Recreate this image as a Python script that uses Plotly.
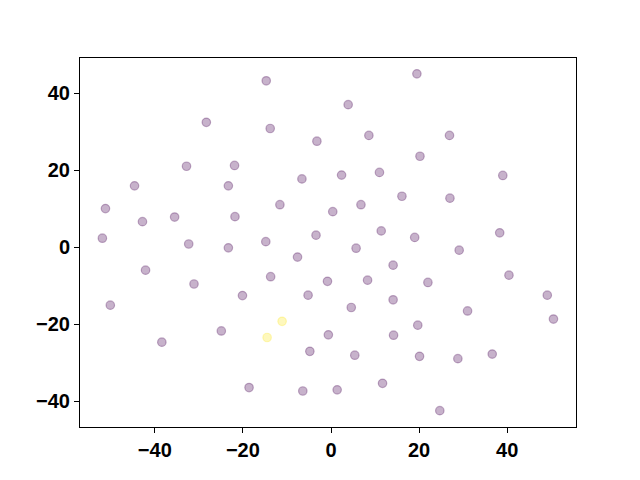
import plotly.graph_objects as go

# purple (class 0) points
x0 = [-14.7, -28.3, -13.8, -3.2, -32.8, -21.9, -44.6, -23.3, -6.6, -51.2,
      -42.8, -35.5, -21.8, -11.6, 0.4, -51.9, -32.3, -23.3, -14.8, -3.4,
      19.5, 3.9, 8.6, 26.9, 20.2, 2.4, 11.0, 39.0, 16.1, 27.0,
      6.8, 11.4, 19.0, 38.3, 5.7, 29.1, -7.6, -42.1, -31.1, -13.7,
      -20.1, -5.2, -0.8, -50.1, -24.9, -38.4, -0.6, -4.8, -18.6, -6.4,
      14.1, 40.4, 8.3, 22.0, 49.1, 4.6, 14.1, 31.0, 50.5, 14.2,
      19.7, 5.4, 20.1, 28.8, 36.6, 1.4, 11.7, 24.7]
y0 = [43.3, 32.5, 30.9, 27.6, 21.1, 21.3, 16.0, 16.0, 17.8, 10.1,
      6.7, 7.9, 8.0, 11.1, 9.3, 2.4, 0.9, -0.1, 1.5, 3.2,
      45.1, 37.1, 29.1, 29.1, 23.7, 18.8, 19.5, 18.7, 13.3, 12.8,
      11.1, 4.3, 2.6, 3.8, -0.2, -0.7, -2.5, -5.9, -9.5, -7.6,
      -12.5, -12.4, -8.8, -15.0, -21.7, -24.6, -22.7, -27.0, -36.4, -37.3,
      -4.6, -7.2, -8.5, -9.1, -12.4, -15.6, -13.6, -16.5, -18.6, -22.8,
      -20.2, -28.0, -28.3, -28.9, -27.7, -37.0, -35.3, -42.4]

# yellow (class 1) points
x1 = [-11.1, -14.5]
y1 = [-19.2, -23.4]

x_ticks = [-40, -20, 0, 20, 40]
y_ticks = [-40, -20, 0, 20, 40]

purple = "rgba(68,1,84,0.3)"
yellow = "rgba(253,231,37,0.3)"

fig = go.Figure()
fig.add_trace(go.Scatter(x=x0, y=y0, mode="markers",
                         marker=dict(size=8.5, color=purple,
                                     line=dict(color=purple, width=1.2)),
                         showlegend=False))
fig.add_trace(go.Scatter(x=x1, y=y1, mode="markers",
                         marker=dict(size=8.5, color=yellow,
                                     line=dict(color=yellow, width=1.2)),
                         showlegend=False))

axis_common = dict(showgrid=False, zeroline=False, showline=True,
                   linecolor="black", linewidth=1, mirror=True,
                   ticks="outside", ticklen=5, tickwidth=1, tickcolor="black",
                   automargin=False,
                   tickfont=dict(family="Liberation Sans", size=20, color="black", weight="bold"))

fig.update_xaxes(range=[-56.98, 55.62], tickvals=x_ticks,
                 ticktext=[str(v).replace("-", "\u2212") for v in x_ticks],
                 **axis_common)
fig.update_yaxes(range=[-46.65, 49.22], tickvals=y_ticks,
                 ticktext=[str(v).replace("-", "\u2212") for v in y_ticks],
                 **axis_common)

fig.update_layout(width=640, height=480,
                  margin=dict(l=80, r=64, t=58, b=53, autoexpand=False),
                  plot_bgcolor="white", paper_bgcolor="white")

fig.write_html("out.html", config={"displayModeBar": False},
               post_script="document.body.style.margin='0';document.body.style.padding='0';")
